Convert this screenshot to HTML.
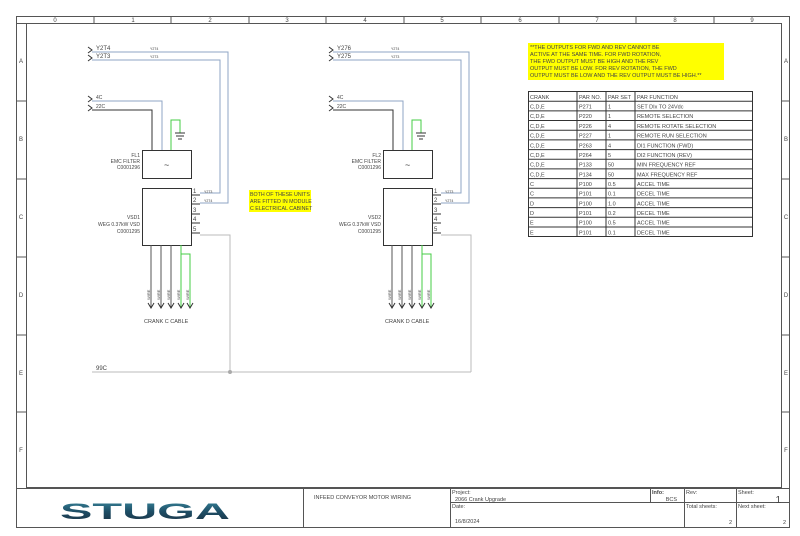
<!DOCTYPE html>
<html><head><meta charset="utf-8"><style>
html,body{margin:0;padding:0;background:#fff;width:800px;height:536px;overflow:hidden}
svg{display:block}
text{font-family:"Liberation Sans",sans-serif;fill:#444}
</style></head><body>
<svg width="800" height="536" viewBox="0 0 800 536" xmlns="http://www.w3.org/2000/svg">
<rect width="800" height="536" fill="#fff"/>
<rect x="16.5" y="16.5" width="773" height="511" fill="none" stroke="#555" stroke-width="1"/>
<line x1="16" y1="23.5" x2="782" y2="23.5" stroke="#555"/>
<rect x="26.5" y="23.5" width="755" height="464" fill="none" stroke="#555"/>
<g stroke="#555">
<line x1="94" y1="16" x2="94" y2="23"/><line x1="171" y1="16" x2="171" y2="23"/><line x1="249" y1="16" x2="249" y2="23"/>
<line x1="326" y1="16" x2="326" y2="23"/><line x1="404" y1="16" x2="404" y2="23"/><line x1="481" y1="16" x2="481" y2="23"/>
<line x1="559" y1="16" x2="559" y2="23"/><line x1="636" y1="16" x2="636" y2="23"/><line x1="714" y1="16" x2="714" y2="23"/>
<line x1="16" y1="101" x2="26" y2="101"/><line x1="16" y1="179" x2="26" y2="179"/><line x1="16" y1="257" x2="26" y2="257"/>
<line x1="16" y1="335" x2="26" y2="335"/><line x1="16" y1="412" x2="26" y2="412"/>
<line x1="782" y1="101" x2="790" y2="101"/><line x1="782" y1="179" x2="790" y2="179"/><line x1="782" y1="257" x2="790" y2="257"/>
<line x1="782" y1="335" x2="790" y2="335"/><line x1="782" y1="412" x2="790" y2="412"/>
</g>
<g font-size="6" text-anchor="middle">
<text x="55" y="22">0</text><text x="133" y="22">1</text><text x="210" y="22">2</text><text x="287" y="22">3</text><text x="365" y="22">4</text>
<text x="442" y="22">5</text><text x="520" y="22">6</text><text x="597" y="22">7</text><text x="675" y="22">8</text><text x="752" y="22">9</text>
<text x="21" y="63">A</text><text x="21" y="141">B</text><text x="21" y="219">C</text><text x="21" y="297">D</text><text x="21" y="375">E</text><text x="21" y="452">F</text>
<text x="786" y="63">A</text><text x="786" y="141">B</text><text x="786" y="219">C</text><text x="786" y="297">D</text><text x="786" y="375">E</text><text x="786" y="452">F</text>
</g>

<defs>
<g id="unit">
 <polyline points="92,52 228,52 228,203 200,203" fill="none" stroke="#8fa6c4"/>
 <polyline points="92,60 220,60 220,193 200,193" fill="none" stroke="#8fa6c4"/>
 <polyline points="92,101 162,101 162,150" fill="none" stroke="#8fa6c4"/>
 <polyline points="92,110 152,110 152,150" fill="none" stroke="#333"/>
 <polyline points="171,150 171,120 180,120 180,133" fill="none" stroke="#4c4"/>
 <line x1="175" y1="133" x2="185" y2="133" stroke="#333"/><line x1="176" y1="136" x2="184" y2="136" stroke="#333"/><line x1="178" y1="139" x2="182" y2="139" stroke="#333"/>
 <rect x="142.5" y="150.5" width="49" height="28" fill="#fff" stroke="#333"/>
 <text x="164" y="168" font-size="9" fill="#333">~</text>
 <rect x="142.5" y="188.5" width="49" height="57" fill="#fff" stroke="#333"/>
 <g stroke="#333"><line x1="191" y1="195" x2="200" y2="195"/><line x1="191" y1="204" x2="200" y2="204"/><line x1="191" y1="214" x2="200" y2="214"/><line x1="191" y1="223" x2="200" y2="223"/><line x1="191" y1="233" x2="200" y2="233"/></g>
 <polyline points="200,235 230,235 230,372" fill="none" stroke="#bbb"/>
 <g font-size="6"><text x="193" y="193">1</text><text x="193" y="202">2</text><text x="193" y="212">3</text><text x="193" y="221">4</text><text x="193" y="231">5</text></g>
 <g stroke="#555"><line x1="151" y1="245" x2="151" y2="307"/><line x1="161" y1="245" x2="161" y2="307"/><line x1="171" y1="245" x2="171" y2="307"/></g>
 <line x1="181" y1="245" x2="181" y2="307" stroke="#4c4"/>
 <polyline points="181,254 190,254 190,307" fill="none" stroke="#4c4"/>
 <g fill="none" stroke="#333"><polyline points="148,303 151,308 154,303"/><polyline points="158,303 161,308 164,303"/><polyline points="168,303 171,308 174,303"/><polyline points="178,303 181,308 184,303"/><polyline points="187,303 190,308 193,303"/></g>
 <g font-size="5"><text x="140" y="163" text-anchor="end">EMC FILTER</text><text x="140" y="169" text-anchor="end">C0001296</text>
 <text x="140" y="226" text-anchor="end">WEG 0.37kW VSD</text><text x="140" y="233" text-anchor="end">C0001295</text>
 <text x="96" y="99">4C</text><text x="96" y="108">22C</text></g>
 <g font-size="3.5" fill="#888"><text x="150" y="50">Y2T4</text><text x="150" y="58">Y2T3</text><text x="204" y="193">Y2T3</text><text x="204" y="202">Y2T4</text></g>
 <g font-size="4" fill="#666"><text transform="translate(150,300) rotate(-90)">WIRE</text><text transform="translate(160,300) rotate(-90)">WIRE</text><text transform="translate(170,300) rotate(-90)">WIRE</text><text transform="translate(180,300) rotate(-90)">WIRE</text><text transform="translate(189,300) rotate(-90)">WIRE</text></g>
 <g fill="none" stroke="#333"><polyline points="88,47 92,50 88,53"/><polyline points="88,55 92,58 88,61"/><polyline points="88,96 92,99 88,102"/><polyline points="88,105 92,108 88,111"/></g>
</g>
</defs>
<use href="#unit"/>
<use href="#unit" transform="translate(241,0)"/>
<g font-size="5" text-anchor="end"><text x="140" y="157">FL1</text><text x="140" y="219">VSD1</text><text x="381" y="157">FL2</text><text x="381" y="219">VSD2</text></g>
<text x="144" y="323" font-size="5.5">CRANK C CABLE</text>
<text x="385" y="323" font-size="5.5">CRANK D CABLE</text>
<text x="96" y="50" font-size="6">Y2T4</text><text x="96" y="58" font-size="6">Y2T3</text>
<text x="337" y="50" font-size="6">Y276</text><text x="337" y="58" font-size="6">Y275</text>

<line x1="92" y1="372" x2="471" y2="372" stroke="#bbb"/>
<circle cx="230" cy="372" r="2" fill="#aaa"/>
<text x="96" y="370" font-size="6">99C</text>

<rect x="249" y="190" width="62" height="22" fill="#ff0"/>
<g font-size="5.3" fill="#333"><text x="250" y="196">BOTH OF THESE UNITS</text><text x="250" y="203">ARE FITTED IN MODULE</text><text x="250" y="210">C ELECTRICAL CABINET</text></g>
<rect x="528" y="43" width="196" height="37" fill="#ff0"/>
<g font-size="5.5"><text x="530" y="49">**THE OUTPUTS FOR FWD AND REV CANNOT BE</text><text x="530" y="56">ACTIVE AT THE SAME TIME. FOR FWD ROTATION,</text><text x="530" y="63">THE FWD OUTPUT MUST BE HIGH AND THE REV</text><text x="530" y="70">OUTPUT MUST BE LOW. FOR REV ROTATION, THE FWD</text><text x="530" y="77">OUTPUT MUST BE LOW AND THE REV OUTPUT MUST BE HIGH.**</text></g>

<g stroke="#333" fill="none">
<rect x="528.5" y="91.5" width="224" height="145"/>
<line x1="577" y1="91" x2="577" y2="236"/><line x1="606" y1="91" x2="606" y2="236"/><line x1="635" y1="91" x2="635" y2="236"/>
<path d="M528 101.2H752M528 110.9H752M528 120.5H752M528 130.2H752M528 139.9H752M528 149.6H752M528 159.2H752M528 168.9H752M528 178.6H752M528 188.3H752M528 197.9H752M528 207.6H752M528 217.3H752M528 227H752"/>
</g>
<g font-size="5.5">
<text x="530" y="99">CRANK</text><text x="579" y="99">PAR NO.</text><text x="608" y="99">PAR SET</text><text x="637" y="99">PAR FUNCTION</text>
<text x="530" y="108.5">C,D,E</text><text x="579" y="108.5">P271</text><text x="608" y="108.5">1</text><text x="637" y="108.5">SET DIx TO 24Vdc</text>
<text x="530" y="118.2">C,D,E</text><text x="579" y="118.2">P220</text><text x="608" y="118.2">1</text><text x="637" y="118.2">REMOTE SELECTION</text>
<text x="530" y="127.9">C,D,E</text><text x="579" y="127.9">P226</text><text x="608" y="127.9">4</text><text x="637" y="127.9">REMOTE ROTATE SELECTION</text>
<text x="530" y="137.6">C,D,E</text><text x="579" y="137.6">P227</text><text x="608" y="137.6">1</text><text x="637" y="137.6">REMOTE RUN SELECTION</text>
<text x="530" y="147.3">C,D,E</text><text x="579" y="147.3">P263</text><text x="608" y="147.3">4</text><text x="637" y="147.3">DI1 FUNCTION (FWD)</text>
<text x="530" y="156.9">C,D,E</text><text x="579" y="156.9">P264</text><text x="608" y="156.9">5</text><text x="637" y="156.9">DI2 FUNCTION (REV)</text>
<text x="530" y="166.6">C,D,E</text><text x="579" y="166.6">P133</text><text x="608" y="166.6">50</text><text x="637" y="166.6">MIN FREQUENCY REF</text>
<text x="530" y="176.3">C,D,E</text><text x="579" y="176.3">P134</text><text x="608" y="176.3">50</text><text x="637" y="176.3">MAX FREQUENCY REF</text>
<text x="530" y="186">C</text><text x="579" y="186">P100</text><text x="608" y="186">0.5</text><text x="637" y="186">ACCEL TIME</text>
<text x="530" y="195.6">C</text><text x="579" y="195.6">P101</text><text x="608" y="195.6">0.1</text><text x="637" y="195.6">DECEL TIME</text>
<text x="530" y="205.3">D</text><text x="579" y="205.3">P100</text><text x="608" y="205.3">1.0</text><text x="637" y="205.3">ACCEL TIME</text>
<text x="530" y="215">D</text><text x="579" y="215">P101</text><text x="608" y="215">0.2</text><text x="637" y="215">DECEL TIME</text>
<text x="530" y="224.7">E</text><text x="579" y="224.7">P100</text><text x="608" y="224.7">0.5</text><text x="637" y="224.7">ACCEL TIME</text>
<text x="530" y="234.3">E</text><text x="579" y="234.3">P101</text><text x="608" y="234.3">0.1</text><text x="637" y="234.3">DECEL TIME</text>
</g>

<g stroke="#555" fill="none">
<line x1="16" y1="488.5" x2="790" y2="488.5"/>
<line x1="303.5" y1="488" x2="303.5" y2="528"/><line x1="450.5" y1="488" x2="450.5" y2="528"/>
<line x1="650.5" y1="488" x2="650.5" y2="502"/><line x1="684.5" y1="488" x2="684.5" y2="528"/><line x1="736.5" y1="488" x2="736.5" y2="528"/>
<line x1="450" y1="502.5" x2="790" y2="502.5"/>
</g>
<g font-size="5.5">
<text x="314" y="499">INFEED CONVEYOR MOTOR WIRING</text>
<text x="452" y="494">Project:</text><text x="455" y="501">2066 Crank Upgrade</text>
<text x="452" y="508">Date:</text><text x="455" y="523">16/8/2024</text>
<text x="652" y="494" font-weight="bold">Info:</text><text x="677" y="501" text-anchor="end">BCS</text>
<text x="686" y="494">Rev:</text><text x="686" y="508">Total sheets:</text><text x="732" y="524" text-anchor="end">2</text>
<text x="738" y="494">Sheet:</text><text x="738" y="508">Next sheet:</text><text x="786" y="524" text-anchor="end">2</text>
</g>
<text x="781" y="503" font-size="10" text-anchor="end" fill="#333">1</text>
<defs><linearGradient id="lg" x1="0" y1="0" x2="0" y2="1"><stop offset="0" stop-color="#3a8aa0"/><stop offset="0.5" stop-color="#1e4e66"/><stop offset="1" stop-color="#1a2f40"/></linearGradient></defs>
<text x="60" y="519" font-size="22" font-weight="bold" textLength="170" lengthAdjust="spacingAndGlyphs" style="fill:url(#lg)" font-family="DejaVu Sans">STUGA</text>
</svg>
</body></html>
